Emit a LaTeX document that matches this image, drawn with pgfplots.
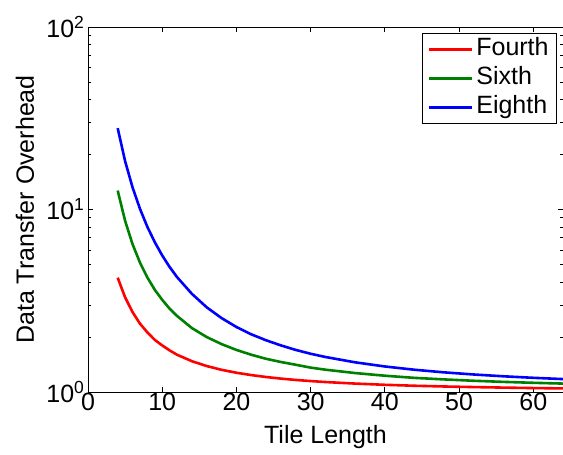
\documentclass[border=0pt]{standalone}
\usepackage{pgfplots}
\pgfplotsset{compat=1.18}
\usepackage{pgfplotstable}
\usepackage{fontspec}
\setmainfont{Liberation Sans}
\definecolor{mred}{rgb}{1,0,0}
\definecolor{mgreen}{rgb}{0,0.5,0}
\definecolor{mblue}{rgb}{0,0,1}
\pgfplotstableread{
L Fourth Sixth Eighth
4 4.23 12.70 27.90
5 3.30 8.67 18.41
6 2.74 6.46 13.23
7 2.37 5.12 10.09
8 2.12 4.24 8.03
9 1.93 3.63 6.62
10 1.80 3.20 5.60
11 1.69 2.86 4.84
12 1.60 2.61 4.26
14 1.475 2.24 3.45
16 1.387 2.00 2.91
18 1.323 1.83 2.54
20 1.275 1.70 2.27
22 1.238 1.60 2.07
24 1.208 1.52 1.92
26 1.184 1.46 1.80
28 1.164 1.41 1.70
30 1.148 1.36 1.62
32 1.134 1.325 1.555
36 1.112 1.27 1.454
40 1.095 1.228 1.380
44 1.082 1.195 1.324
48 1.072 1.172 1.281
52 1.064 1.152 1.247
56 1.057 1.136 1.219
60 1.051 1.123 1.196
64 1.046 1.112 1.177
}\datatable
\begin{document}
\begin{tikzpicture}[font=\fontsize{25}{29}\selectfont]
\begin{axis}[
  at={(0,0)}, anchor=south west,
  scale only axis,
  width=475pt, height=365pt,
  xmin=0, xmax=64,
  ymode=log, ymin=1, ymax=100,
  xtick={0,10,20,30,40,50,60},
  ytick={1,10,100},
  yticklabels={{10\textsuperscript{0}},{10\textsuperscript{1}},{10\textsuperscript{2}}},
  /pgf/number format/assume math mode=true,
  tick align=inside,
  major tick length=5pt,
  minor tick length=3pt,
  axis line style={line width=0.8pt},
  every tick/.style={black, line width=0.8pt},
  xticklabel style={yshift=2pt},
  xlabel={Tile Length},
  ylabel={Data Transfer Overhead},
  xlabel style={at={(axis description cs:0.5,-0.1233)}, anchor=center},
  ylabel style={at={(axis description cs:-0.1326,0.5)}, anchor=center},
  legend style={at={(rel axis cs:1,1)}, anchor=north east, xshift=-6pt, yshift=-6pt,
    draw=black, line width=0.8pt, inner xsep=5pt, inner ysep=1.5pt,
    row sep=0pt,
    nodes={inner sep=3pt, text height=18pt, text depth=5pt}},
  legend image code/.code={\draw[#1] (0pt,0pt) -- (43pt,0pt);},
  legend cell align=left,
]
\addplot[mred, line width=2.6pt] table[x=L, y=Fourth] {\datatable};
\addplot[mgreen, line width=2.6pt] table[x=L, y=Sixth] {\datatable};
\addplot[mblue, line width=2.6pt] table[x=L, y=Eighth] {\datatable};
\legend{Fourth, Sixth, Eighth}
\end{axis}
\pgfresetboundingbox
\path[use as bounding box] (-88pt,-63pt) rectangle (475pt,392pt);
\end{tikzpicture}
\end{document}
